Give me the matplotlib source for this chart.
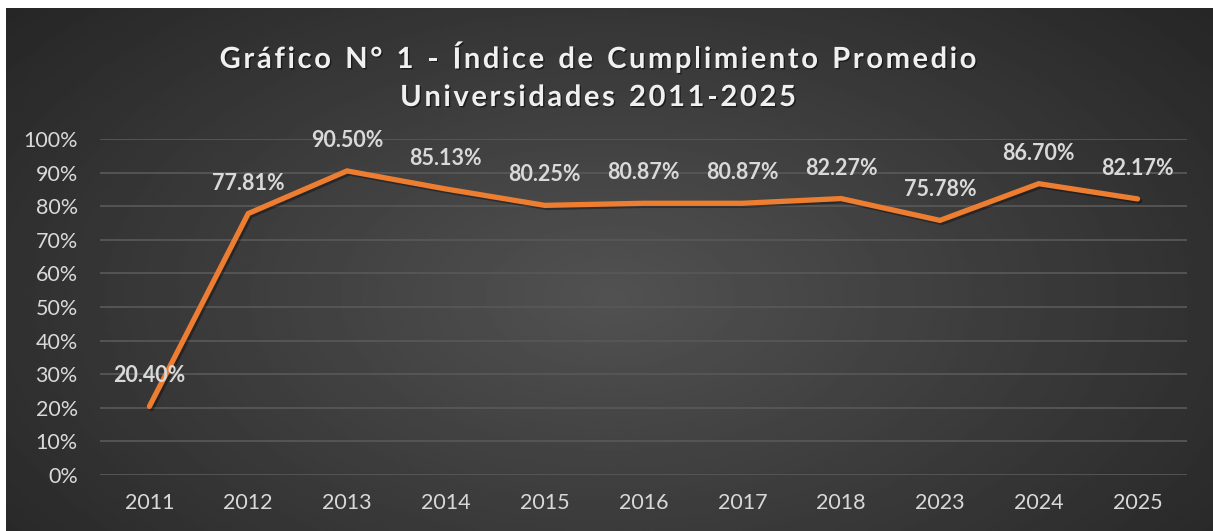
import numpy as np
import matplotlib
matplotlib.use("Agg")
import matplotlib.pyplot as plt
import matplotlib.patheffects as pe
from matplotlib.ticker import PercentFormatter

# --- datos ---
years = ["2011", "2012", "2013", "2014", "2015", "2016", "2017", "2018", "2023", "2024", "2025"]
indice = [20.40, 77.81, 90.50, 85.13, 80.25, 80.87, 80.87, 82.27, 75.78, 86.70, 82.17]
title_lines = ["Gráfico N° 1 - Índice de Cumplimiento Promedio", "Universidades 2011-2025"]

TEXT = "#d9d9d9"
ORANGE = "#ED7D31"
GRID = "#575757"
FONT = ["Lato", "DejaVu Sans"]

plt.rcParams["font.family"] = FONT

W, H = 1213, 531
fig = plt.figure(figsize=(W / 100, H / 100), dpi=100, facecolor="white")

# fondo oscuro con degradado radial (estilo Excel)
bg = fig.add_axes([6 / W, 0, 1 - 6 / W, (H - 8) / H])
yy, xx = np.mgrid[0:200, 0:460]
r = np.sqrt(((xx - 230) / 300) ** 2 + ((yy - 110) / 170) ** 2)
r = np.clip(r, 0, 1)
grad = 0.32 - 0.17 * r
bg.imshow(grad, cmap="gray", vmin=0, vmax=1, aspect="auto", interpolation="bilinear")
bg.set_axis_off()

ax = fig.add_axes([100 / W, 56 / H, 1087 / W, 336 / H])
ax.patch.set_alpha(0)
x = np.arange(len(years))
ax.plot(x, np.array(indice) / 100, color=ORANGE, lw=3.8, solid_joinstyle="miter",
        solid_capstyle="round", zorder=3,
        path_effects=[pe.SimpleLineShadow(offset=(1.5, -1.5), shadow_color="black", alpha=0.35),
                      pe.Normal()])

for xi, v in zip(x, indice):
    ax.annotate(f"{v:.2f}%", (xi, v / 100), xytext=(0, 22), textcoords="offset points",
                ha="center", va="center", fontsize=15.5, fontweight="bold", color=TEXT, zorder=4)

ax.set_xlim(-0.5, len(years) - 0.5)
ax.set_ylim(0, 1)
ax.set_yticks(np.arange(0, 1.01, 0.1))
ax.yaxis.set_major_formatter(PercentFormatter(1.0, decimals=0))
ax.set_xticks(x)
ax.set_xticklabels(years)
ax.tick_params(axis="y", length=0, pad=16, labelsize=15.5, labelcolor=TEXT)
ax.tick_params(axis="x", length=0, pad=13, labelsize=15.5, labelcolor=TEXT)
ax.grid(True, axis="y", color=GRID, lw=1.3, zorder=0)
for s in ax.spines.values():
    s.set_visible(False)


def spaced_text(fig, y, s, spacing, **kw):
    """Texto centrado con espaciado entre letras (como el título de Excel)."""
    r = fig.canvas.get_renderer()
    widths = []
    for ch in s:
        t = fig.text(0, 0, ch if ch != " " else "n", **kw)
        widths.append(t.get_window_extent(r).width * (0.55 if ch == " " else 1))
        t.remove()
    total = sum(widths) + spacing * (len(s) - 1)
    xp = W * 0.493 - total / 2
    for ch, w in zip(s, widths):
        fig.text(xp / W, y, ch, ha="left", va="center", **kw)
        xp += w + spacing


shadow = [pe.withSimplePatchShadow(offset=(1, -1), shadow_rgbFace="black", alpha=0.5)]
title_kw = dict(fontsize=21, fontweight="bold", color="#f0f0f0", path_effects=shadow)
spaced_text(fig, 1 - 60 / H, title_lines[0], 2.6, **title_kw)
spaced_text(fig, 1 - 98 / H, title_lines[1], 2.6, **title_kw)

fig.savefig("out.png", dpi=100, facecolor="white")
